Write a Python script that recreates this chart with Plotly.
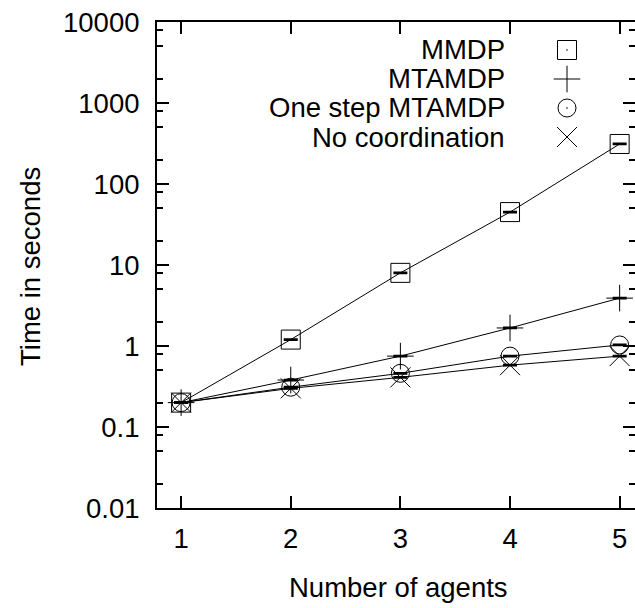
import plotly.graph_objects as go

agents = [1, 2, 3, 4, 5]
mmdp = [0.2, 1.2, 8.0, 45, 312]
mtamdp = [0.2, 0.38, 0.75, 1.67, 3.9]
one_step = [0.2, 0.31, 0.46, 0.75, 1.03]
no_coord = [0.2, 0.30, 0.41, 0.58, 0.75]

series_names = ["MMDP", "MTAMDP", "One step MTAMDP", "No coordination"]
series_values = [mmdp, mtamdp, one_step, no_coord]
symbols = ["square-open-dot", "cross-thin-open", "circle-open-dot", "x-thin-open"]
sizes = [19, 19, 18, 20]

y_major = [0.01, 0.1, 1, 10, 100, 1000, 10000]
y_major_text = ["0.01", "0.1", "1", "10", "100", "1000", "10000"]
y_minor = [m * 10.0 ** e for e in range(-2, 4) for m in (2, 5, 8)]

FONT = "Liberation Sans, Arial, sans-serif"
FS = 27.5
W, H = 635, 608
L, R, T, B = 157, 0, 22, 100
pw, ph = W - L - R, H - T - B

fig = go.Figure()
for name, vals, sym, sz in zip(series_names, series_values, symbols, sizes):
    fig.add_trace(go.Scatter(
        x=agents, y=vals, name=name, mode="lines+markers",
        line=dict(color="black", width=1),
        marker=dict(symbol=sym, size=sz, color="black",
                    line=dict(color="black", width=1)),
        error_y=dict(type="percent", value=1, color="black", thickness=2, width=7),
        showlegend=False,
    ))

# manual gnuplot-style key: text right-aligned, symbol on the right
key_text_right = 507
key_sym_x = 567
key_top = 50
key_step = 29
for i, (name, sym, sz) in enumerate(zip(series_names, symbols, sizes)):
    py = key_top + i * key_step
    fig.add_trace(go.Scatter(
        x=[(key_sym_x - L) / pw], y=[(H - B - py) / ph], xaxis="x2", yaxis="y3",
        mode="markers", showlegend=False, hoverinfo="skip",
        marker=dict(symbol=sym, size=sz, color="black", line=dict(color="black", width=1)),
    ))
    fig.add_annotation(
        x=(key_text_right - L) / pw, y=(H - B - py) / ph, xref="paper", yref="paper",
        text=name, showarrow=False, xanchor="right", yanchor="middle",
        font=dict(family=FONT, size=FS, color="black"),
    )

# right-side mirrored ticks (no line)
fig.add_trace(go.Scatter(x=[None], y=[None], yaxis="y2", showlegend=False))

fig.update_layout(
    width=W, height=H,
    margin=dict(l=L, r=R, t=T, b=B, pad=0),
    paper_bgcolor="white", plot_bgcolor="white",
    font=dict(family=FONT, size=FS, color="black"),
    xaxis=dict(
        range=[0.78, 5.14], tickvals=agents, ticktext=[str(a) for a in agents],
        ticks="inside", ticklen=12, tickwidth=2, tickcolor="black",
        showline=True, linewidth=2, linecolor="black", mirror="ticks",
        showgrid=False, zeroline=False, ticklabelstandoff=5,
        tickfont=dict(family=FONT, size=FS),
    ),
    yaxis=dict(
        type="log", range=[-2, 4], tickvals=y_major, ticktext=y_major_text,
        ticks="inside", ticklen=12, tickwidth=2, tickcolor="black",
        showline=True, linewidth=2, linecolor="black",
        showgrid=False, zeroline=False, ticklabelstandoff=10,
        minor=dict(tickvals=y_minor, ticks="inside", ticklen=6, tickwidth=2,
                   tickcolor="black", showgrid=False),
        tickfont=dict(family=FONT, size=FS),
    ),
    yaxis2=dict(
        type="log", range=[-2, 4], overlaying="y", side="right",
        tickvals=y_major, showticklabels=False,
        ticks="inside", ticklen=12, tickwidth=2, tickcolor="black",
        showline=False, showgrid=False, zeroline=False,
        minor=dict(tickvals=y_minor, ticks="inside", ticklen=6, tickwidth=2,
                   tickcolor="black", showgrid=False),
    ),
    xaxis2=dict(range=[0, 1], overlaying="x", visible=False),
    yaxis3=dict(range=[0, 1], overlaying="y", visible=False),
    showlegend=False,
)

fig.add_annotation(
    x=(30 - L) / pw, y=(H - B - 267) / ph, xref="paper", yref="paper",
    text="Time in seconds", textangle=-90, showarrow=False,
    xanchor="center", yanchor="middle", font=dict(family=FONT, size=FS),
)
fig.add_annotation(
    x=(398 - L) / pw, y=(H - B - 587) / ph, xref="paper", yref="paper",
    text="Number of agents", showarrow=False,
    xanchor="center", yanchor="middle", font=dict(family=FONT, size=FS),
)

fig.write_html("out.html")
